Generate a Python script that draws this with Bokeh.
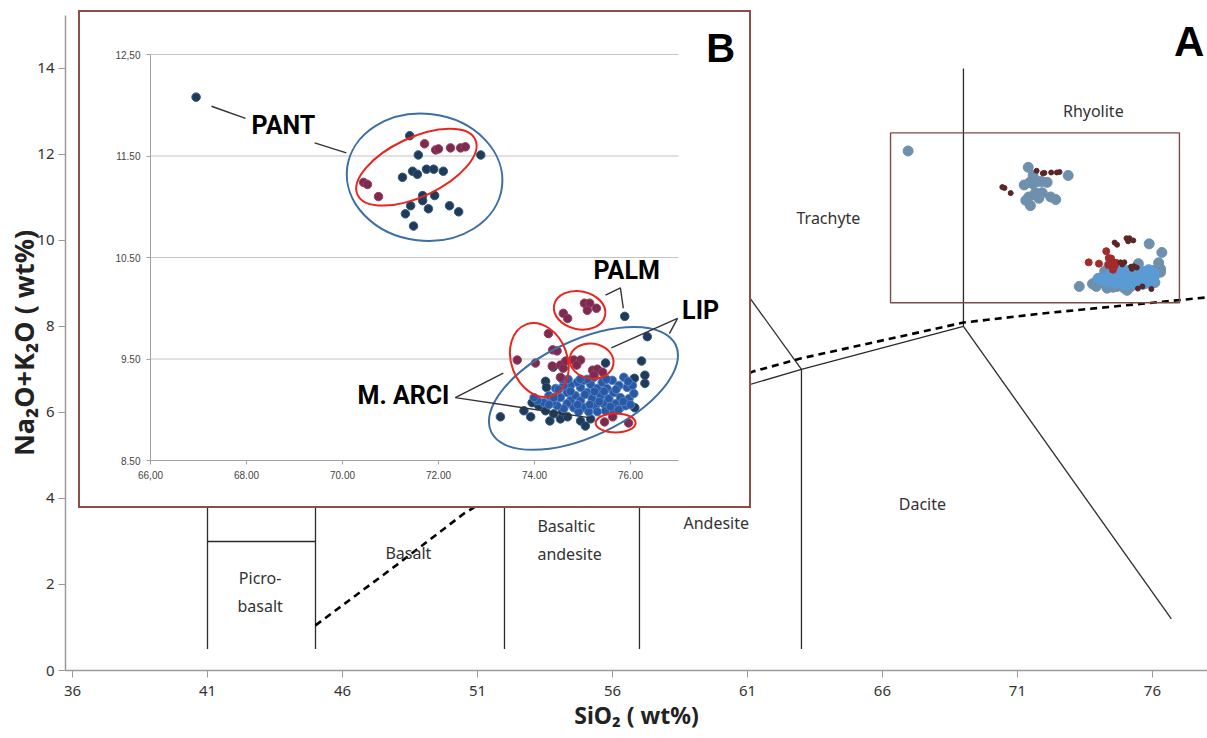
from bokeh.plotting import figure
from bokeh.models import Range1d, FixedTicker, Label
from bokeh.core.properties import value
from bokeh.embed import file_html
from bokeh.resources import INLINE

# ---------------- data: TAS diagram (A) ----------------
x_ticks_main = [36, 41, 46, 51, 56, 61, 66, 71, 76]
y_ticks_main = [0, 2, 4, 6, 8, 10, 12, 14]

bound_xs = [[41, 41], [41, 45], [45, 45], [52, 52], [57, 57], [63, 63],
            [45, 52, 57, 63, 69], [69, 69], [69, 76.7], [63, 57.6]]
bound_ys = [[0.5, 7], [3, 3], [0.5, 5], [0.5, 5], [0.5, 5.9], [0.5, 7],
            [5, 5, 5.9, 7, 8], [8, 14], [8, 1.2], [7, 11.7]]

alk_x = [45, 48, 50.5, 53, 56, 59, 61.2, 63, 69, 71.9, 78.1]
alk_y = [1.05, 2.45, 3.65, 4.6, 5.55, 6.35, 6.95, 7.26, 8.09, 8.3, 8.68]

zoom_box = [66.3, 77.0, 8.55, 12.5]  # left, right, bottom, top

names_c = ["Rhyolite", "Trachyte", "Dacite", "Basalt", "Picro-", "basalt"]
names_c_x = [73.81, 64.0, 67.48, 48.44, 42.95, 42.95]
names_c_y = [13.02, 10.53, 3.88, 2.74, 2.14, 1.49]
names_l = ["Andesite", "Basaltic", "andesite"]
names_l_x = [58.63, 53.22, 53.22]
names_l_y = [3.44, 3.37, 2.72]

# ---------------- data: samples (shared by A and B) ----------------
pant_navy_x = [66.95, 71.40, 71.58, 72.88, 71.25, 71.46, 71.56, 71.75, 71.90, 72.10,
               71.67, 71.67, 71.92, 71.42, 71.31, 71.79, 72.23, 72.42, 71.48]
pant_navy_y = [12.08, 11.70, 11.51, 11.51, 11.29, 11.35, 11.32, 11.37, 11.37, 11.35,
               11.11, 11.06, 11.11, 11.01, 10.93, 10.98, 11.01, 10.95, 10.81]
pant_mar_x = [70.44, 70.52, 70.75, 71.71, 71.94, 72.00, 72.25, 72.46, 72.56]
pant_mar_y = [11.24, 11.22, 11.10, 11.62, 11.56, 11.57, 11.58, 11.58, 11.59]

palm_mar_x = [74.60, 74.69, 75.04, 75.15, 75.10, 75.29]
palm_mar_y = [9.95, 9.90, 10.05, 10.05, 9.98, 10.00]

arci_mar_x = [73.64, 74.02, 74.29, 74.38, 74.47, 74.37, 74.54, 74.60, 74.54, 74.65]
arci_mar_y = [9.49, 9.46, 9.75, 9.59, 9.58, 9.43, 9.44, 9.41, 9.32, 9.48]

lip_mar_x = [74.82, 74.96, 74.88, 75.21, 75.31, 75.42, 75.24, 75.46, 75.63, 75.96]
lip_mar_y = [9.49, 9.49, 9.44, 9.39, 9.40, 9.37, 9.34, 8.88, 8.93, 8.87]

lip_navy_x = [75.88, 76.35, 76.23, 76.30, 76.30, 76.08, 76.09, 73.29, 73.78, 73.92,
              74.32, 74.54, 74.69, 74.96, 75.06, 75.17, 75.48, 74.23, 74.25, 74.39,
              73.95, 74.09, 74.23, 74.40, 74.58]
lip_navy_y = [9.92, 9.72, 9.48, 9.34, 9.26, 9.31, 9.02, 8.93, 8.99, 8.93,
              8.89, 8.91, 8.93, 8.89, 8.84, 8.91, 9.46, 9.28, 9.22, 9.42,
              9.07, 9.04, 8.99, 8.96, 8.98]

lip_blue_x = [74.54, 74.68, 74.75, 74.85, 74.96, 74.96, 75.03, 75.10, 75.17, 75.20,
              75.27, 75.31, 75.38, 75.41, 75.44, 75.51, 75.55, 75.62, 75.65, 75.69,
              75.76, 75.79, 75.86, 75.93, 75.97, 76.04, 76.07, 74.82, 74.92, 75.13,
              75.31, 75.48, 74.68, 74.61, 74.47, 74.37, 74.30, 74.19, 74.06, 73.99,
              75.03, 75.24, 74.89, 74.75, 74.61, 75.79, 75.65, 75.90, 74.44, 74.58,
              74.75, 74.90, 75.05, 75.15, 75.25, 75.35, 75.45, 75.58, 75.70, 75.85,
              75.95, 74.40, 74.50, 74.30, 75.10, 75.50, 74.95, 74.70, 75.75, 76.00]
lip_blue_y = [9.12, 9.17, 9.09, 9.14, 9.22, 9.09, 9.02, 9.17, 9.25, 9.11,
              9.04, 9.21, 9.14, 9.27, 9.06, 9.21, 9.11, 9.29, 9.17, 9.06,
              9.24, 9.12, 9.32, 9.22, 9.11, 9.24, 9.16, 9.02, 8.98, 8.98,
              8.98, 8.99, 9.06, 9.01, 9.04, 9.07, 9.14, 9.07, 9.09, 9.12,
              9.29, 9.32, 9.27, 9.24, 9.24, 9.02, 8.98, 9.04, 9.21, 9.30,
              9.18, 9.05, 9.15, 9.05, 9.18, 9.08, 9.18, 9.03, 9.20, 9.08,
              9.28, 9.12, 9.20, 9.05, 9.30, 9.30, 9.30, 9.30, 9.00, 9.05]

# ---------------- data: inset (B) ----------------
inset_x_ticks = [66, 68, 70, 72, 74, 76]
inset_x_labels = ["66,00", "68.00", "70.00", "72.00", "74.00", "76.00"]
inset_y_ticks = [8.5, 9.5, 10.5, 11.5, 12.5]
inset_y_labels = ["8.50", "9.50", "10.50", "11.50", "12,50"]
inset_x_extent = [66, 77]
inset_y_extent = [8.5, 12.5]

ell_x = [71.71, 75.02, 71.54, 74.94, 74.10, 75.19, 75.69]
ell_y = [11.29, 9.21, 11.39, 9.98, 9.49, 9.48, 8.87]
ell_color = ["#3d6fa6", "#3d6fa6", "#e8261e", "#e8261e", "#e8261e", "#e8261e", "#e8261e"]
ell_w = [156, 204, 130, 52, 56, 44, 40]
ell_h = [127, 96, 59, 38, 76, 35, 19]
ell_a = [-0.12, 0.44, 0.44, -0.2, 0.35, -0.15, 0.0]

lead_xs = [[67.27, 67.98], [69.42, 70.08], [75.48, 75.79, 75.85],
           [76.98, 75.60], [76.98, 76.81], [73.35, 72.35, 75.17]]
lead_ys = [[11.99, 11.87], [11.63, 11.53], [10.13, 10.20, 10.0],
           [9.90, 9.61], [9.90, 9.75], [9.36, 9.12, 8.92]]

group_names = ["PANT", "PALM", "LIP", "M. ARCI"]
group_x = [68.77, 75.92, 77.46, 71.27]
group_y = [11.80, 10.37, 9.98, 9.14]

# ================= main figure (A) =================
p = figure(width=1207, height=738, x_range=Range1d(35.74, 78.04), y_range=Range1d(0, 15.23),
           output_backend="svg", toolbar_location=None,
           min_border_left=65, min_border_right=0, min_border_top=15, min_border_bottom=68)
p.outline_line_color = None
p.grid.visible = False
p.background_fill_color = "white"

for ax in (p.xaxis[0], p.yaxis[0]):
    ax.axis_line_color = "#9a9a9a"
    ax.axis_line_width = 1.5
    ax.major_tick_line_color = "#9a9a9a"
    ax.major_tick_out = 7
    ax.major_tick_in = 0
    ax.minor_tick_line_color = None
    ax.major_label_text_font = "Noto Sans"
    ax.major_label_text_font_size = "15px"
    ax.major_label_text_color = "#333333"
    ax.axis_label_text_font = "Noto Sans"
    ax.axis_label_text_font_style = "bold"
    ax.axis_label_text_color = "#222222"

p.xaxis.ticker = FixedTicker(ticks=x_ticks_main)
p.yaxis.ticker = FixedTicker(ticks=y_ticks_main)
p.xaxis.major_label_standoff = 8
p.yaxis.major_label_standoff = 4
p.xaxis.axis_label = "SiO\u2082 ( wt%)"
p.xaxis.axis_label_text_font_size = "23px"
p.xaxis.axis_label_standoff = 0
p.yaxis.axis_label = "Na\u2082O+K\u2082O ( wt%)"
p.yaxis.axis_label_text_font_size = "27px"
p.yaxis.axis_label_standoff = -8

p.multi_line(xs=bound_xs, ys=bound_ys, line_color="#2b2b2b", line_width=1.3)
p.line(alk_x, alk_y, line_color="black", line_width=2.6, line_dash="7 5")
p.quad(left=[zoom_box[0]], right=[zoom_box[1]], bottom=[zoom_box[2]], top=[zoom_box[3]],
       fill_color=None, line_color="#7d4b45", line_width=1.4)

p.text(x=names_c_x, y=names_c_y, text=names_c, text_font=value("Noto Sans"),
       text_font_size="16px", text_align="center", text_baseline="middle", text_color="#333333")
p.text(x=names_l_x, y=names_l_y, text=names_l, text_font=value("Noto Sans"),
       text_font_size="16px", text_align="left", text_baseline="middle", text_color="#333333")

p.scatter(pant_navy_x + lip_navy_x, pant_navy_y + lip_navy_y, size=10,
          fill_color="#6f90ad", line_color="#6f90ad")
p.scatter(lip_blue_x, lip_blue_y, size=10, fill_color="#5b9bd5", line_color="#5b9bd5")
p.scatter(arci_mar_x, arci_mar_y, size=7, fill_color="#a32b2b", line_color="#a32b2b")
p.scatter(pant_mar_x + palm_mar_x + lip_mar_x, pant_mar_y + palm_mar_y + lip_mar_y, size=5,
          fill_color="#5a2626", line_color="#5a2626")

p.add_layout(Label(x=76.8, y=14.63, text="A",
                   text_font="Liberation Sans", text_font_size="42px", text_font_style="bold",
                   text_baseline="alphabetic", text_color="black"))

# ================= inset (B) =================
# the frame is widened to the right and top of the plotted window so that the
# "LIP" and "B" texts are not clipped; axes/grid are bounded to the window.
q = figure(width=673, height=498, x_range=Range1d(66, 66 + 603 / 48),
           y_range=Range1d(8.5, 12.5 + 42 / 101.5),
           output_backend="svg", toolbar_location=None,
           min_border_left=70, min_border_right=0, min_border_top=0, min_border_bottom=50,
           styles={"position": "absolute", "left": "78px", "top": "10px",
                   "border": "2px solid #8b4f4a", "background": "white", "z-index": "10"})
q.outline_line_color = None
q.grid.visible = False
for ax in (q.xaxis[0], q.yaxis[0]):
    ax.axis_line_color = "#a0a0a0"
    ax.major_tick_line_color = "#a0a0a0"
    ax.major_tick_out = 4
    ax.major_tick_in = 0
    ax.minor_tick_line_color = None
    ax.major_label_text_font = "Liberation Sans"
    ax.major_label_text_font_size = "10px"
    ax.major_label_text_color = "#444444"
q.xaxis.ticker = FixedTicker(ticks=inset_x_ticks)
q.yaxis.ticker = FixedTicker(ticks=inset_y_ticks)
q.xaxis.bounds = tuple(inset_x_extent)
q.yaxis.bounds = tuple(inset_y_extent)
q.xaxis.major_label_overrides = {float(t): s for t, s in zip(inset_x_ticks, inset_x_labels)}
q.yaxis.major_label_overrides = {float(t): s for t, s in zip(inset_y_ticks, inset_y_labels)}
q.xaxis.major_label_standoff = 6
q.yaxis.major_label_standoff = 6

# horizontal gridlines over the plotted window only
grid_y = inset_y_ticks[1:]
q.segment(x0=[inset_x_extent[0]] * len(grid_y), x1=[inset_x_extent[1]] * len(grid_y),
          y0=grid_y, y1=grid_y, line_color="#c4c4c4", line_width=1.2)

q.scatter(pant_navy_x + lip_navy_x, pant_navy_y + lip_navy_y, size=8.5,
          fill_color="#1f3b5a", line_color="#34577c")
q.scatter(lip_blue_x, lip_blue_y, size=8.5, fill_color="#2b58a3", line_color="#4f82c9")
q.scatter(pant_mar_x + palm_mar_x + arci_mar_x + lip_mar_x,
          pant_mar_y + palm_mar_y + arci_mar_y + lip_mar_y, size=8.5,
          fill_color="#7c2a50", line_color="#96405f")

q.ellipse(x=ell_x, y=ell_y, width=ell_w, height=ell_h, angle=ell_a,
          width_units="screen", height_units="screen",
          fill_color=None, line_color=ell_color, line_width=2)
q.multi_line(xs=lead_xs, ys=lead_ys, line_color="#333333", line_width=1.4)

q.text(x=group_x, y=group_y, text=group_names, text_font=value("Roboto"),
       text_font_size="25px", text_font_style="bold",
       text_align="center", text_baseline="middle", text_color="black")

q.add_layout(Label(x=77.58, y=12.56, text="B",
                   text_font="Liberation Sans", text_font_size="40px", text_font_style="bold",
                   text_baseline="alphabetic", text_color="black"))

open("out.html", "w").write(file_html([p, q], INLINE))
